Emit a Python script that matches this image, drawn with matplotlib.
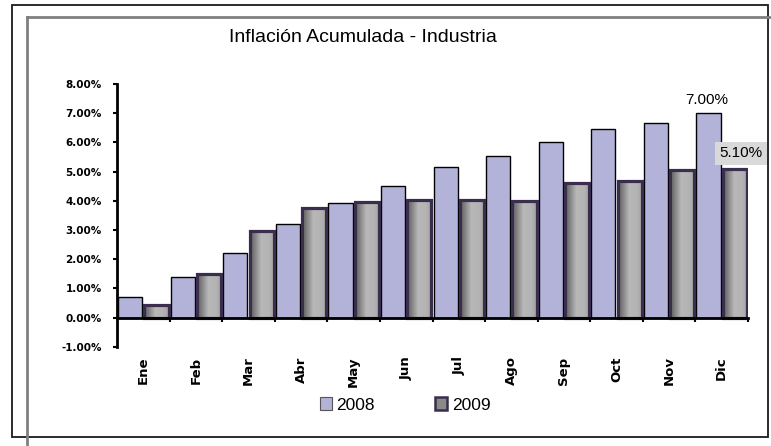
import numpy as np
import matplotlib
matplotlib.use("Agg")
import matplotlib.pyplot as plt
from matplotlib.patches import Patch, Rectangle
from matplotlib.lines import Line2D

meses = ["Ene", "Feb", "Mar", "Abr", "May", "Jun", "Jul", "Ago", "Sep", "Oct", "Nov", "Dic"]
inf_2008 = [0.70, 1.40, 2.22, 3.21, 3.91, 4.52, 5.14, 5.55, 6.03, 6.46, 6.67, 7.00]
inf_2009 = [0.43, 1.50, 2.95, 3.74, 3.95, 4.02, 4.02, 4.00, 4.60, 4.68, 5.05, 5.10]
yticks = [-1, 0, 1, 2, 3, 4, 5, 6, 7, 8]

W, H = 771, 446
fig = plt.figure(figsize=(W / 100, H / 100), dpi=100)
ax = fig.add_axes([117 / W, 1 - 346.7 / H, (748 - 117) / W, (346.7 - 84) / H])

x = np.arange(len(meses))
ax.bar(x - 0.25, inf_2008, width=0.46, color="#b3b3d9", edgecolor="black", linewidth=1.0, zorder=2)
b09 = ax.bar(x + 0.25, inf_2009, width=0.46, color="none", edgecolor="#3a2d4e", linewidth=2.3, zorder=4)

# gris degradado dentro de las barras 2009
grad = np.interp(np.linspace(0, 1, 40), [0, 0.15, 0.45, 0.8, 1], [0.38, 0.48, 0.72, 0.70, 0.62])[None, :]
for r in b09:
    ax.imshow(grad, extent=[r.get_x(), r.get_x() + r.get_width(), 0, r.get_height()],
              cmap="gray", vmin=0, vmax=1, aspect="auto", zorder=3)

ax.set_xlim(-0.5, len(meses) - 0.5)
ax.set_ylim(-1, 8)

for s in ["top", "right"]:
    ax.spines[s].set_visible(False)
ax.spines["left"].set_linewidth(2)
ax.spines["bottom"].set_position(("data", 0))
ax.spines["bottom"].set_linewidth(2)
ax.spines["bottom"].set_zorder(5)

ax.set_yticks(yticks)
ax.set_yticklabels(["%.2f%%" % v for v in yticks], fontsize=7.5, fontweight="bold")
ax.tick_params(axis="y", direction="out", length=3, width=1.5, pad=8)

ax.set_xticks(x)
ax.set_xticklabels(meses, rotation=90, fontsize=9.5, fontweight="bold", va="top")
ax.set_xticks(np.arange(len(meses)) + 0.5, minor=True)
ax.tick_params(axis="x", which="major", length=0, pad=28)
ax.tick_params(axis="x", which="minor", direction="out", length=3, width=1.5)

ax.text(x[-1] - 0.28, inf_2008[-1] + 0.22, "%.2f%%" % inf_2008[-1], ha="center", va="bottom",
        fontsize=11, family="Liberation Sans", zorder=6)
ax.text(x[-1] + 0.37, inf_2009[-1] + 0.52, "%.2f%%" % inf_2009[-1], ha="center", va="center",
        fontsize=11, family="Liberation Sans", zorder=6, clip_on=False,
        bbox=dict(facecolor="#d9d9d9", edgecolor="none", pad=3))

fig.text(363 / W, 1 - 38 / H, "Inflación Acumulada - Industria", ha="center", va="center",
         fontsize=14, family="Liberation Sans")

handles = [Patch(facecolor="#b3b3d9", edgecolor="#555555", linewidth=0.8),
           Patch(facecolor="#8a8a8a", edgecolor="#3a2d4e", linewidth=1.8)]
fig.legend(handles, ["2008", "2009"], loc="center", bbox_to_anchor=(405 / W, 1 - 405 / H), ncol=2,
           frameon=False, prop={"family": "Liberation Sans", "size": 12.5},
           handlelength=0.7, handleheight=0.7, handletextpad=0.25, columnspacing=3.5)

# marcos
fig.add_artist(Rectangle((12 / W, 1 - 437 / H), (768 - 12) / W, (437 - 5) / H, transform=fig.transFigure,
                         fill=False, edgecolor="#1a1a1a", linewidth=1.3))
fig.add_artist(Line2D([27 / W, 27 / W], [0, 1 - 17 / H], transform=fig.transFigure, color="#808080", linewidth=2))
fig.add_artist(Line2D([27 / W, 1], [1 - 17 / H, 1 - 17 / H], transform=fig.transFigure, color="#808080", linewidth=2))

fig.savefig("out.png", dpi=100)
